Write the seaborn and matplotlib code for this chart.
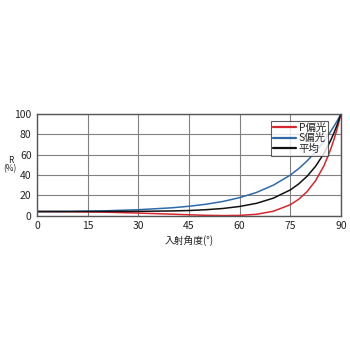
import matplotlib
matplotlib.use("Agg")
import matplotlib.pyplot as plt
import seaborn as sns
import pandas as pd

angles = [0, 10, 20, 30, 40, 45, 50, 55, 60, 65, 70, 75, 77.5, 80, 82.5, 85, 87, 88, 89, 90]
p_pol = [4.0, 3.8, 3.4, 2.5, 1.4, 0.8, 0.3, 0.0, 0.2, 1.3, 4.3, 10.7, 16.1, 23.7, 34.4, 49.2, 65.6, 75.5, 86.9, 100]
s_pol = [4.0, 4.2, 4.7, 5.8, 7.7, 9.2, 11.2, 13.9, 17.7, 22.8, 30.0, 39.9, 46.3, 53.9, 62.8, 73.3, 83.0, 88.3, 93.9, 100]
avg = [4.0, 4.0, 4.1, 4.2, 4.6, 5.0, 5.8, 7.0, 9.0, 12.1, 17.2, 25.3, 31.2, 38.8, 48.6, 61.3, 74.3, 81.9, 90.4, 100]
series_names = ["P偏光", "S偏光", "平均"]
colors = ["#d7262e", "#2e6aa8", "#111111"]
x_ticks = [0, 15, 30, 45, 60, 75, 90]
y_ticks = [0, 20, 40, 60, 80, 100]

sns.set_theme(style="white")
plt.rcParams['font.family'] = ['Noto Sans CJK JP', 'DejaVu Sans']

df = pd.DataFrame({"angle": angles * 3,
                   "R": p_pol + s_pol + avg,
                   "series": [series_names[0]] * len(angles) + [series_names[1]] * len(angles) + [series_names[2]] * len(angles)})

fig = plt.figure(figsize=(3.5, 3.5), dpi=100)
ax = fig.add_axes([0.106, 0.384, 0.868, 0.29])
sns.lineplot(data=df, x="angle", y="R", hue="series", palette=colors, ax=ax, linewidth=1.1, sort=True)

ax.set_xlim(0, 90)
ax.set_ylim(0, 100)
ax.set_xticks(x_ticks)
ax.set_yticks(y_ticks)
ax.grid(True, color="#808080", linewidth=0.8)
for s in ax.spines.values():
    s.set_color("#555555")
    s.set_linewidth(1.0)
ax.tick_params(labelsize=7.5, length=0, pad=4, colors="#222222")
ax.set_xlabel("入射角度(°)", fontsize=7, labelpad=3, color="#222222")
ax.set_ylabel("R\n(%)", fontsize=6, rotation=0, color="#222222", va="center", ha="center", linespacing=0.9)
ax.yaxis.set_label_coords(-0.088, 0.5)

leg = ax.legend(loc="upper right", bbox_to_anchor=(0.975, 0.985), fontsize=7.5, frameon=True, fancybox=False,
                handlelength=2.2, handletextpad=0.3, borderpad=0.2, labelspacing=0.05, title=None)
leg.get_frame().set_edgecolor("#333333")
leg.get_frame().set_linewidth(0.8)
for line in leg.get_lines():
    line.set_linewidth(1.6)

fig.savefig("out.png", dpi=100, facecolor="white")
